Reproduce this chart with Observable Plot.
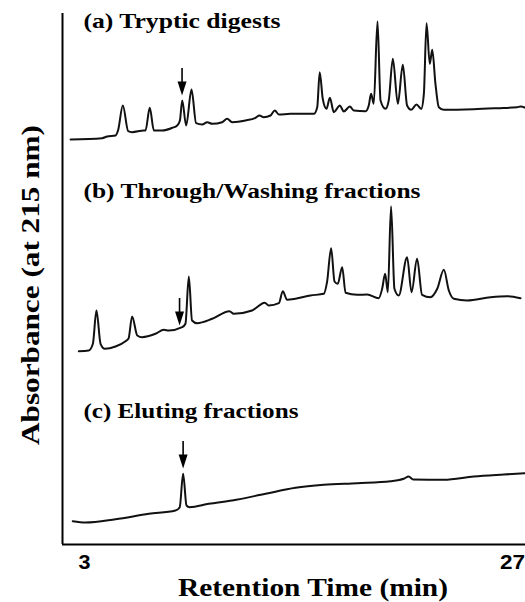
<!DOCTYPE html>
<html>
<head>
<meta charset="utf-8">
<script src="https://cdn.jsdelivr.net/npm/d3@7"></script>
<script src="https://cdn.jsdelivr.net/npm/@observablehq/plot@0.6"></script>
<style>
  html, body { margin: 0; padding: 0; background: #fff; }
</style>
</head>
<body>
<div id="chart"></div>
<script>
// ---- Data (retention time in min, absorbance in arbitrary units) ----
const panels = ["a", "b", "c"];
const panelTitles = ["(a) Tryptic digests", "(b) Through/Washing fractions", "(c) Eluting fractions"];

const timeA = [2.22, 3.99, 4.27, 4.74, 4.88, 5.15, 5.45, 5.67, 6.33, 6.42, 6.66, 6.89, 7.36, 7.92, 8.20, 8.35, 8.48, 8.70, 9.00, 9.26, 9.60, 9.88, 10.16, 10.72, 11.00, 11.28, 12.03, 12.59, 12.81, 13.05, 13.43, 13.67, 13.90, 14.55, 15.86, 16.05, 16.19, 16.36, 16.57, 16.76, 16.98, 17.32, 17.54, 17.88, 18.10, 18.76, 18.94, 19.07, 19.22, 19.43, 19.60, 19.88, 20.06, 20.29, 20.57, 20.85, 21.09, 21.32, 21.62, 21.88, 22.03, 22.18, 22.36, 22.50, 22.68, 22.87, 23.15, 24.83, 26.14, 27.26, 27.45, 27.73];
const absA  = [51, 52.3, 54, 55, 60, 85, 59.3, 58.3, 60, 60, 82.7, 60, 60, 62.7, 65, 70, 90, 65, 101, 67.3, 66, 68.3, 66.7, 68.3, 71.7, 68.3, 70, 72.7, 75, 73.3, 75, 80, 76, 76.7, 76.7, 83.3, 118.3, 91.7, 81.7, 92.7, 78.3, 85, 79, 84, 80, 79.3, 85, 96.7, 86.7, 169.3, 90, 81.7, 90, 131.7, 86.7, 125.7, 85, 80.7, 86, 81.7, 96.7, 167.3, 126.7, 140.7, 106.7, 83.3, 80.7, 81.3, 82.3, 83.3, 84, 82.7];

const timeB = [2.68, 3.24, 3.47, 3.67, 3.90, 4.14, 4.74, 5.30, 5.47, 5.67, 5.96, 6.23, 6.98, 7.45, 7.73, 8.48, 8.66, 8.85, 9.03, 9.31, 10.16, 11.13, 11.37, 12.40, 13.11, 13.33, 13.90, 14.12, 14.36, 14.83, 15.67, 16.42, 16.60, 16.83, 17.02, 17.20, 17.45, 17.64, 18.29, 18.85, 19.50, 19.69, 19.86, 20.01, 20.19, 20.38, 20.62, 21.09, 21.34, 21.65, 21.93, 22.40, 22.78, 23.15, 23.43, 23.71, 24.46, 25.77, 26.70, 27.45];
const absB  = [16.3, 17, 23.7, 57, 23.7, 18.7, 21, 26.3, 29, 51, 32, 30.3, 33.7, 37.7, 37, 40.3, 43.7, 91, 47, 44.3, 48.7, 56.3, 53.7, 57, 64.7, 62, 64.3, 76.3, 67.7, 68.7, 72, 73.7, 85.3, 119.3, 86, 83.7, 100.3, 74.7, 72.7, 73, 69.3, 78.7, 93.7, 75.3, 161.3, 78.7, 72, 110.3, 75.3, 108.7, 72.7, 70.3, 78.7, 97.7, 77, 68.7, 67, 70.3, 71.3, 69.3];

const timeC = [2.34, 3.06, 4.74, 6.61, 8.10, 8.34, 8.53, 8.72, 8.89, 9.97, 11.28, 13.15, 14.83, 16.42, 18.29, 20.16, 20.90, 21.18, 21.43, 23.15, 24.83, 26.51, 27.73];
const absC  = [23.3, 22, 25.3, 30.7, 34, 37.3, 70.7, 39, 37.3, 40.7, 44, 50.7, 56.7, 59.7, 61.3, 63.3, 65.7, 68, 65, 64.7, 68, 70, 71.3];

// marked peak (arrow) in each panel: retention time and absorbance at arrow tip
const arrowTime = [8.47, 8.33, 8.53];
const arrowTip  = [95, 42, 76];

const xTicks = [3, 27];
const xLabel = "Retention Time (min)";
const yLabel = "Absorbance (at 215 nm)";

// ---- Build tables ----
const traces = [[timeA, absA], [timeB, absB], [timeC, absC]];
const rows = traces.flatMap(([ts, vs], i) => ts.map((t, j) => ({panel: panels[i], t, v: vs[j]})));
const arrows = panels.map((p, i) => ({panel: p, t: arrowTime[i], tip: arrowTip[i]}));
const titles = panels.map((p, i) => ({panel: p, text: panelTitles[i]}));

const W = 525, H = 602;
const mL = 62, mR = 0, mT = 13, mB = 58;
const facetH = (H - mT - mB) / 3;
const pxPerMin = 17.833;
const xMin = 3 - (84 - mL) / pxPerMin;
const xMax = 3 + (W - mR - 84) / pxPerMin;

const arrowHead = {
  draw(ctx) {
    ctx.moveTo(-4.5, -7);
    ctx.lineTo(4.5, -7);
    ctx.lineTo(0, 7);
    ctx.closePath();
  }
};

const titleY = {a: 169, b: 176, c: 133};

const chart = Plot.plot({
  width: W,
  height: H,
  marginLeft: mL,
  marginRight: mR,
  marginTop: mT,
  marginBottom: mB,
  style: {fontFamily: "'Liberation Sans', Arial, sans-serif", fontSize: "20px", fontWeight: "bold", background: "#fff", color: "#000"},
  x: {domain: [xMin, xMax], ticks: xTicks, tickSize: 0, tickPadding: 10, label: null, tickFormat: d => String(d)},
  y: {domain: [0, facetH], axis: null},
  fy: {domain: panels, axis: null, padding: 0},
  marks: [
    Plot.ruleX([xMin], {stroke: "#000", strokeWidth: 2}),
    Plot.ruleY([{panel: "c"}], {y: 0, fy: "panel", stroke: "#000", strokeWidth: 2}),
    Plot.line(rows, {x: "t", y: "v", fy: "panel", z: "panel", curve: "monotone-x", stroke: "#111", strokeWidth: 2}),
    Plot.ruleX(arrows, {x: "t", y1: d => d.tip + 27, y2: d => d.tip + 10, fy: "panel", stroke: "#000", strokeWidth: 1.6}),
    Plot.dot(arrows, {x: "t", y: d => d.tip + 7, fy: "panel", symbol: arrowHead, fill: "#000", stroke: "none"}),
    Plot.text(titles, {x: 2.94, y: d => titleY[d.panel], fy: "panel", text: "text", textAnchor: "start", lineAnchor: "middle",
      fontFamily: "'Liberation Serif', 'Times New Roman', serif", fontSize: 21.5, fontWeight: "bold", fill: "#000"})
  ]
});

document.getElementById("chart").appendChild(chart);

const svg = d3.select(chart.tagName.toLowerCase() === "svg" ? chart : chart.querySelector("svg"));
const stretch = {"(a) Tryptic digests": 197, "(b) Through/Washing fractions": 337, "(c) Eluting fractions": 215, "3": 12, "27": 25};
const tickSet = new Set(xTicks.map(String));
svg.selectAll("text").each(function () {
  const txt = this.textContent;
  const w = stretch[txt];
  if (w) { this.setAttribute("textLength", w); this.setAttribute("lengthAdjust", "spacingAndGlyphs"); }
  if (tickSet.has(txt)) {
    this.style.fontSize = "20px";
    this.style.fontWeight = "bold";
    this.style.fontFamily = "'Liberation Sans', Arial, sans-serif";
  }
});

svg.append("text")
  .attr("transform", "translate(39,285) rotate(-90)")
  .attr("text-anchor", "middle")
  .attr("font-family", "'Liberation Serif', 'Times New Roman', serif")
  .attr("font-size", 25).attr("font-weight", "bold").attr("fill", "#000")
  .attr("textLength", 320).attr("lengthAdjust", "spacingAndGlyphs")
  .text(yLabel);

svg.append("text")
  .attr("x", 313).attr("y", 596)
  .attr("text-anchor", "middle")
  .attr("font-family", "'Liberation Serif', 'Times New Roman', serif")
  .attr("font-size", 25).attr("font-weight", "bold").attr("fill", "#000")
  .attr("textLength", 270).attr("lengthAdjust", "spacingAndGlyphs")
  .text(xLabel);
</script>
</body>
</html>
